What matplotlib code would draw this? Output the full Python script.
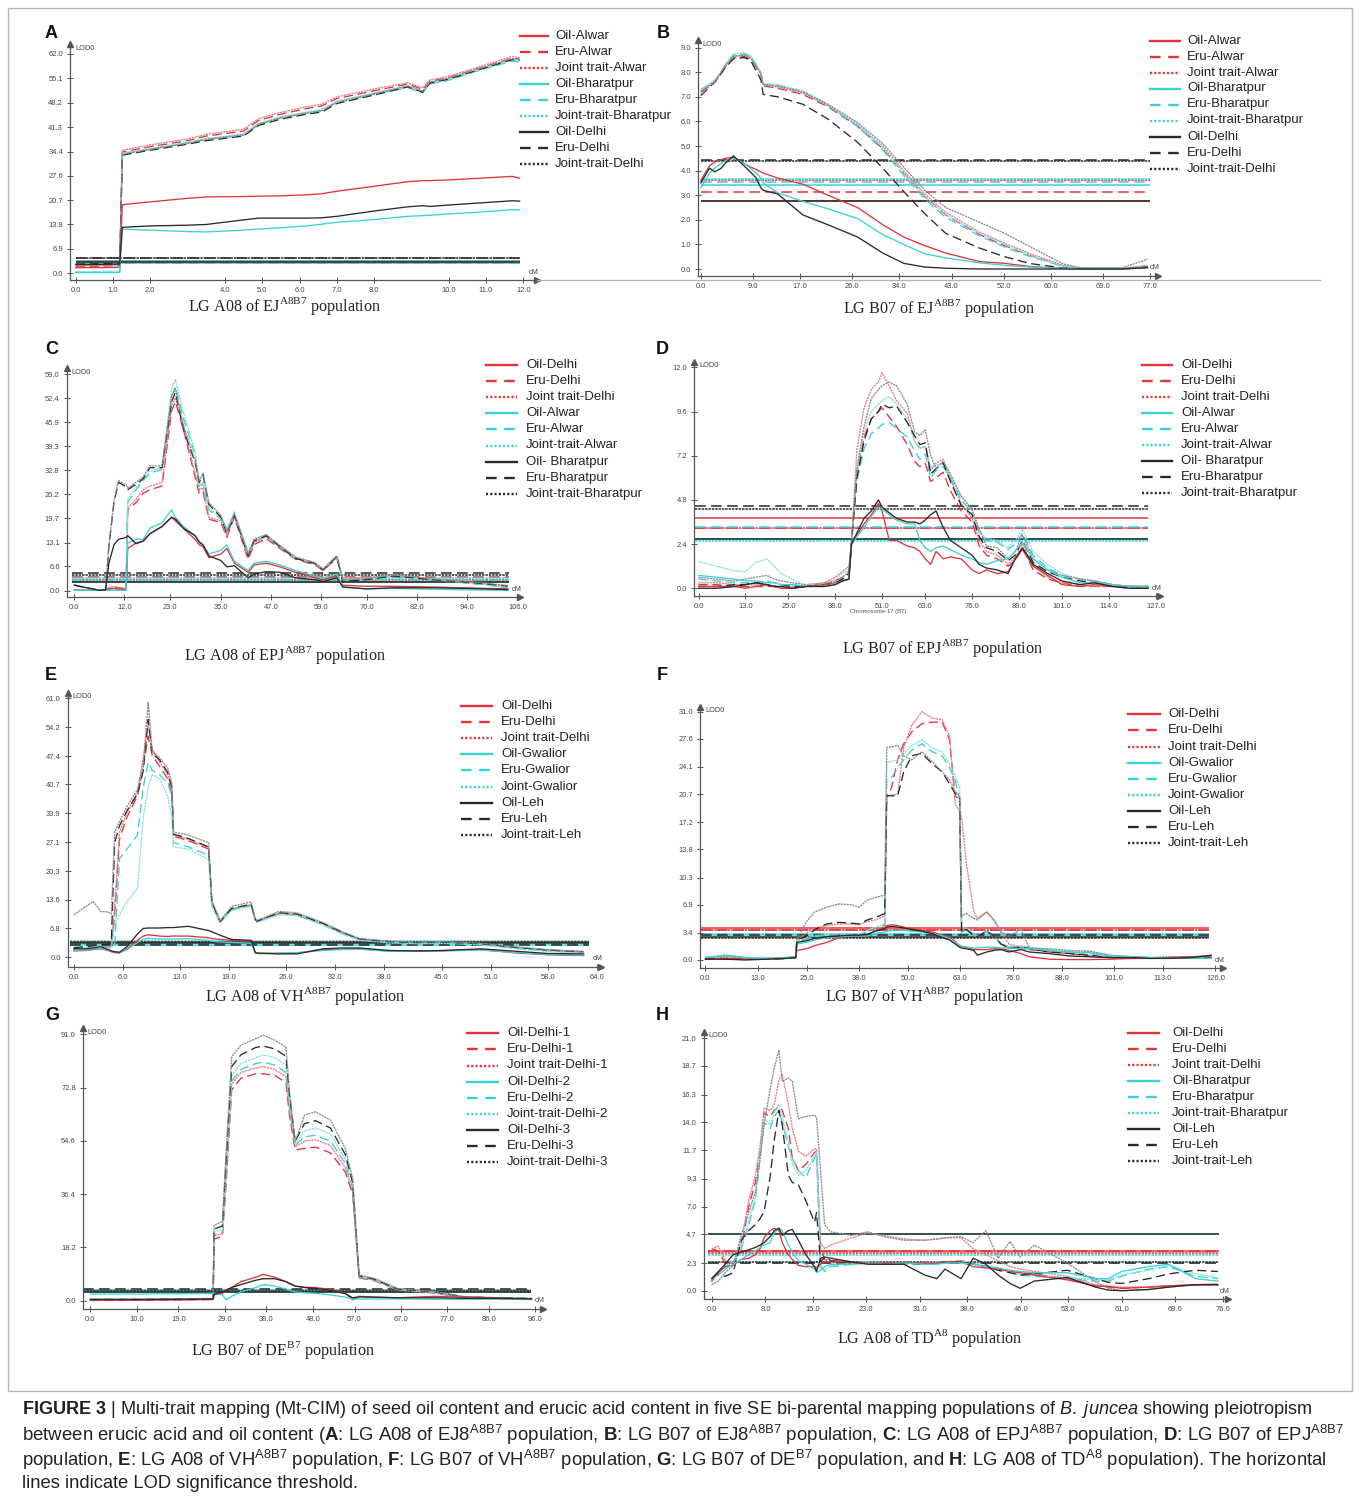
import matplotlib
matplotlib.use("Agg")
import matplotlib.pyplot as plt
from matplotlib.lines import Line2D
from matplotlib.patches import Rectangle
from matplotlib import font_manager

# ------------------------------------------------------------------ data
# ---- Panel A : LG A08 of EJ (Alwar / Bharatpur / Delhi)
A_cm = [0, 0.6, 1.18, 1.25, 2.0, 3.0, 3.5, 4.5, 4.9, 5.5, 6.2, 6.6, 7.0, 8.0, 8.9, 9.3, 9.5, 10.0, 10.7, 11.7, 11.9]
A_oil_alwar = [1.6, 1.6, 1.7, 19.4, 20.2, 21.2, 21.6, 21.7, 21.8, 21.9, 22.2, 22.5, 23.2, 24.6, 25.9, 26.2, 26.2, 26.4, 26.8, 27.4, 26.9]
A_eru_alwar = [2.0, 2.0, 2.2, 34.3, 35.8, 37.5, 38.8, 40.2, 43.2, 45.0, 46.6, 47.3, 49.4, 51.6, 53.5, 52.0, 54.3, 55.3, 57.6, 60.8, 60.6]
A_joint_alwar = [2.2, 2.2, 2.4, 34.8, 36.3, 38.0, 39.3, 40.7, 43.7, 45.5, 47.1, 47.8, 49.9, 52.1, 53.9, 52.4, 54.7, 55.7, 58.0, 61.3, 61.0]
A_oil_bharatpur = [0.2, 0.2, 0.2, 12.5, 12.2, 11.8, 11.7, 12.2, 12.5, 12.9, 13.4, 13.9, 14.4, 15.2, 16.1, 16.3, 16.4, 16.8, 17.2, 18.0, 17.9]
A_eru_bharatpur = [0.3, 0.3, 0.4, 33.8, 35.0, 36.8, 37.8, 39.0, 42.0, 43.9, 45.2, 46.0, 48.3, 50.6, 52.5, 51.0, 53.5, 54.6, 57.0, 60.0, 59.8]
A_joint_bharatpur = [0.5, 0.5, 0.6, 34.0, 35.3, 37.1, 38.1, 39.4, 42.4, 44.3, 45.6, 46.4, 48.7, 51.0, 52.9, 51.4, 53.9, 55.0, 57.4, 60.4, 60.2]
A_oil_delhi = [2.5, 2.5, 2.6, 13.0, 13.4, 13.6, 13.8, 15.1, 15.6, 15.6, 15.6, 15.7, 16.1, 17.6, 18.8, 19.1, 18.9, 19.3, 19.8, 20.5, 20.4]
A_eru_delhi = [2.6, 2.7, 2.8, 33.4, 34.8, 36.5, 37.5, 38.8, 41.8, 43.6, 45.0, 45.6, 48.0, 50.4, 52.7, 51.2, 53.8, 54.9, 57.2, 60.4, 60.2]
A_joint_delhi = [2.3, 2.4, 2.5, 33.7, 35.1, 36.8, 37.9, 39.2, 42.2, 44.0, 45.4, 46.0, 48.4, 50.8, 53.0, 51.5, 54.1, 55.2, 57.5, 60.7, 60.5]
A_thr = [3.4, 3.0, 3.2, 3.0, 3.3, 3.5, 3.1, 4.4, 4.3]
A_labels = ["Oil-Alwar", "Eru-Alwar", "Joint trait-Alwar", "Oil-Bharatpur", "Eru-Bharatpur",
            "Joint-trait-Bharatpur", "Oil-Delhi", "Eru-Delhi", "Joint-trait-Delhi"]
A_xticks = [0, 1, 2, 4, 5, 6, 7, 8, 10, 11, 12]
A_yticks = [0.0, 6.9, 13.8, 20.7, 27.6, 34.4, 41.3, 48.2, 55.1, 62.0]
A_title = r"LG A08 of EJ$^{\mathrm{A8B7}}$ population"

# ---- Panel B : LG B07 of EJ
B_cm = [0, 1.5, 2.4, 3.5, 4.2, 5.6, 7.4, 8.5, 9.5, 10.3, 10.7, 13.2, 17.5, 21.8, 26.9, 31.2, 34.8, 38.4, 42.0, 47.8, 52.1, 56.5, 62.2, 65.1, 72.3, 76.6]
B_oil_alwar = [3.6, 4.2, 4.35, 4.45, 4.5, 4.55, 4.3, 4.15, 4.05, 3.95, 3.9, 3.7, 3.45, 3.0, 2.5, 1.8, 1.3, 0.95, 0.65, 0.3, 0.23, 0.1, 0.02, 0.0, 0.0, 0.08]
B_eru_alwar = [7.2, 7.45, 7.6, 7.95, 8.2, 8.6, 8.65, 8.55, 8.2, 7.9, 7.45, 7.35, 7.1, 6.6, 5.8, 4.9, 3.9, 2.95, 2.2, 1.4, 0.95, 0.55, 0.12, 0.03, 0.02, 0.12]
B_joint_alwar = [7.25, 7.5, 7.65, 8.0, 8.25, 8.65, 8.7, 8.6, 8.25, 7.95, 7.5, 7.4, 7.15, 6.65, 5.85, 5.0, 4.0, 3.05, 2.3, 1.5, 1.05, 0.62, 0.14, 0.03, 0.02, 0.15]
B_oil_bharatpur = [3.3, 3.9, 4.1, 4.3, 4.4, 4.5, 4.3, 4.1, 3.9, 3.7, 3.5, 3.1, 2.75, 2.45, 2.05, 1.4, 1.0, 0.62, 0.45, 0.25, 0.15, 0.08, 0.02, 0.0, 0.0, 0.05]
B_eru_bharatpur = [7.3, 7.5, 7.6, 8.0, 8.3, 8.7, 8.75, 8.65, 8.3, 7.95, 7.5, 7.45, 7.2, 6.65, 5.8, 4.85, 3.8, 2.85, 2.1, 1.35, 0.9, 0.5, 0.1, 0.02, 0.02, 0.1]
B_joint_bharatpur = [7.3, 7.55, 7.7, 8.05, 8.35, 8.75, 8.8, 8.7, 8.35, 8.0, 7.55, 7.5, 7.25, 6.7, 5.9, 4.95, 3.9, 2.95, 2.2, 1.45, 1.0, 0.55, 0.12, 0.02, 0.02, 0.12]
B_oil_delhi = [3.5, 4.1, 3.95, 4.1, 4.3, 4.6, 4.2, 3.95, 3.7, 3.3, 3.2, 3.05, 2.2, 1.8, 1.3, 0.65, 0.23, 0.08, 0.03, 0.0, 0.0, 0.0, 0.0, 0.0, 0.0, 0.05]
B_eru_delhi = [7.05, 7.4, 7.6, 7.95, 8.2, 8.55, 8.6, 8.5, 8.05, 7.7, 7.1, 7.0, 6.7, 6.1, 5.15, 4.1, 3.15, 2.25, 1.45, 0.85, 0.5, 0.22, 0.04, 0.0, 0.0, 0.08]
B_joint_delhi = [7.1, 7.45, 7.6, 8.0, 8.25, 8.65, 8.7, 8.6, 8.25, 7.95, 7.5, 7.45, 7.2, 6.7, 5.95, 5.1, 4.15, 3.2, 2.5, 1.9, 1.45, 0.9, 0.2, 0.05, 0.05, 0.4]
B_thr = [2.78, 3.15, 3.6, 3.4, 3.55, 3.65, 2.75, 4.42, 4.4]
B_labels = A_labels
B_xticks = [0, 9, 17, 26, 34, 43, 52, 60, 69, 77]
B_yticks = [0.0, 1.0, 2.0, 3.0, 4.0, 5.0, 6.0, 7.0, 8.0, 9.0]
B_title = r"LG B07 of EJ$^{\mathrm{A8B7}}$ population"

# ---- Panel C : LG A08 of EPJ (Delhi / Alwar / Bharatpur)
C_cm = [0, 3, 6, 7.5, 8.3, 9.5, 10.6, 12.4, 12.8, 14.8, 16.5, 18.1, 21.0, 23.3, 24.2, 26.1, 28.9, 29.9, 30.8, 32.2,
        35.1, 36.5, 38.3, 41.6, 43.0, 45.9, 49.2, 52.9, 57.6, 59.5, 62.8, 64.2, 69.8, 76.4, 85.8, 95.2, 103.7]
C_oil_delhi = [0.2, 0.1, 0.1, 0.2, 0.5, 0.6, 0.5, 0.3, 11.5, 13.0, 13.5, 15.5, 17.5, 20.0, 19.0, 17.0, 14.0, 12.5, 12.0, 9.0,
               10.0, 11.5, 7.5, 5.0, 7.0, 7.5, 6.5, 5.0, 3.5, 3.0, 4.0, 1.5, 1.2, 1.2, 1.0, 0.7, 0.5]
C_eru_delhi = [0.2, 0.1, 0.1, 0.2, 0.8, 1.0, 0.8, 0.5, 22.0, 24.0, 26.5, 27.5, 28.5, 49.0, 51.5, 44.0, 31.0, 26.5, 27.0, 19.5,
               18.5, 14.5, 20.0, 8.5, 12.5, 14.2, 11.5, 8.6, 7.0, 5.5, 8.8, 3.4, 3.4, 4.2, 3.0, 2.0, 1.0]
C_joint_delhi = [0.3, 0.1, 0.1, 0.2, 0.9, 1.1, 0.9, 0.6, 22.5, 25.0, 27.5, 28.5, 29.5, 50.5, 52.5, 45.0, 32.0, 27.5, 28.0, 20.0,
                 19.0, 15.0, 21.0, 9.0, 13.0, 14.7, 12.0, 8.9, 7.2, 5.7, 9.0, 3.6, 3.5, 4.3, 3.1, 2.1, 1.1]
C_oil_alwar = [0.1, 0.1, 0.1, 0.1, 0.1, 0.1, 0.1, 0.1, 13.0, 14.0, 14.0, 17.0, 18.5, 22.0, 20.0, 17.5, 15.0, 13.0, 12.5, 10.0,
               11.0, 12.5, 8.0, 5.5, 7.5, 8.0, 7.0, 5.5, 4.0, 3.5, 4.5, 1.0, 0.5, 0.6, 0.4, 0.2, 0.1]
C_eru_alwar = [0.3, 0.2, 0.1, 0.1, 0.5, 0.4, 0.3, 0.2, 24.0, 27.5, 30.0, 32.0, 33.0, 53.0, 55.5, 47.0, 37.0, 28.5, 29.0, 22.0,
               19.5, 16.5, 21.0, 10.0, 13.5, 14.8, 12.0, 8.8, 7.5, 5.8, 9.4, 3.2, 3.3, 4.1, 2.9, 2.0, 0.8]
C_joint_alwar = [0.3, 0.2, 0.1, 0.1, 0.6, 0.5, 0.4, 0.3, 25.0, 28.0, 30.5, 32.5, 33.5, 55.0, 57.5, 48.5, 38.0, 29.0, 29.5, 22.5,
                 20.0, 17.0, 21.5, 10.5, 14.0, 15.2, 12.3, 9.0, 7.7, 6.0, 9.6, 3.3, 3.4, 4.2, 3.0, 2.1, 0.9]
C_oil_bharatpur = [1.5, 0.8, 0.1, 0.2, 7.5, 12.5, 14.0, 14.5, 15.0, 12.8, 13.5, 15.5, 17.5, 20.0, 19.5, 17.0, 15.0, 13.3, 12.5, 9.5,
                   8.2, 6.5, 6.8, 3.5, 4.5, 5.2, 5.0, 3.5, 3.0, 2.5, 3.5, 1.0, 0.5, 0.8, 0.8, 0.6, 0.3]
C_eru_bharatpur = [1.5, 0.8, 0.1, 0.2, 12.0, 24.0, 29.5, 28.3, 27.5, 29.0, 30.5, 33.5, 33.5, 51.5, 54.0, 44.0, 35.0, 29.5, 31.5, 23.5,
                   20.0, 15.5, 20.5, 9.5, 13.5, 15.0, 12.0, 8.8, 7.4, 5.6, 9.3, 2.5, 3.0, 4.0, 3.0, 2.2, 1.3]
C_joint_bharatpur = [1.6, 0.8, 0.1, 0.2, 12.5, 24.5, 30.0, 28.8, 28.0, 29.5, 31.0, 34.0, 34.0, 53.0, 55.0, 45.0, 35.5, 30.0, 32.0, 24.0,
                     20.5, 16.0, 21.0, 10.0, 14.0, 15.3, 12.3, 9.2, 7.6, 5.9, 9.5, 3.0, 3.3, 4.3, 3.2, 2.4, 1.4]
C_thr = [2.4, 3.6, 2.9, 2.5, 3.0, 3.5, 2.5, 4.7, 4.4]
C_labels = ["Oil-Delhi", "Eru-Delhi", "Joint trait-Delhi", "Oil-Alwar", "Eru-Alwar", "Joint-trait-Alwar",
            "Oil- Bharatpur", "Eru-Bharatpur", "Joint-trait-Bharatpur"]
C_xticks = [0, 12, 23, 35, 47, 59, 70, 82, 94, 106]
C_yticks = [0.0, 6.6, 13.1, 19.7, 26.2, 32.8, 39.3, 45.9, 52.4, 59.0]
C_title = r"LG A08 of EPJ$^{\mathrm{A8B7}}$ population"

# ---- Panel D : LG B07 of EPJ
D_cm = [0, 5, 10, 13, 16, 19, 21, 23, 26, 30, 35, 38, 40, 41.8, 42.5, 44, 46, 48, 50, 51, 53, 55, 58, 60, 61.5,
        63, 64.5, 66, 68, 70, 73, 76, 78, 80, 83, 86, 88, 90, 93, 97, 101, 106, 110, 115, 120, 125]
D_oil_delhi = [0.1, 0.1, 0.1, 0.0, 0.1, 0.2, 0.1, 0.0, 0.0, 0.1, 0.2, 0.3, 0.4, 0.5, 2.4, 2.9, 3.5, 4.0, 4.6, 4.2, 2.6, 2.6, 2.3, 2.2, 2.0,
               1.6, 1.3, 2.0, 1.6, 1.7, 1.6, 1.0, 0.8, 1.0, 0.8, 0.9, 1.6, 2.1, 1.2, 0.7, 0.2, 0.1, 0.2, 0.1, 0.1, 0.1]
D_eru_delhi = [0.2, 0.2, 0.1, 0.1, 0.1, 0.1, 0.1, 0.0, 0.0, 0.1, 0.2, 0.4, 0.6, 0.9, 2.4, 6.2, 8.2, 9.2, 9.6, 9.8, 9.3, 8.8, 7.8, 6.9, 6.6,
               6.8, 5.8, 6.0, 6.3, 5.3, 4.2, 3.6, 2.3, 1.8, 1.6, 1.2, 1.5, 2.2, 1.0, 0.5, 0.3, 0.1, 0.1, 0.1, 0.1, 0.1]
D_joint_delhi = [0.3, 0.3, 0.2, 0.2, 0.2, 0.2, 0.1, 0.1, 0.1, 0.1, 0.3, 0.6, 0.9, 1.2, 2.5, 7.5, 9.8, 10.8, 11.2, 11.7, 11.0, 10.2, 9.5, 8.0, 7.6,
                 7.7, 6.4, 6.8, 7.0, 5.9, 4.6, 3.8, 2.6, 2.0, 1.8, 1.3, 1.7, 2.4, 1.2, 0.6, 0.3, 0.2, 0.1, 0.1, 0.1, 0.1]
D_oil_alwar = [0.7, 0.6, 0.5, 0.4, 0.4, 0.3, 0.3, 0.2, 0.2, 0.1, 0.1, 0.2, 0.4, 0.5, 2.4, 2.8, 3.3, 3.9, 4.4, 4.3, 4.0, 3.7, 3.5, 3.5, 2.6,
               2.2, 2.0, 2.2, 2.3, 2.1, 1.8, 1.6, 1.4, 1.3, 1.5, 1.6, 2.0, 2.5, 1.6, 1.0, 0.6, 0.3, 0.3, 0.2, 0.1, 0.1]
D_eru_alwar = [0.5, 0.4, 0.3, 0.3, 0.3, 0.4, 0.3, 0.2, 0.2, 0.1, 0.2, 0.3, 0.5, 0.8, 2.3, 5.8, 7.6, 8.4, 8.7, 8.9, 9.0, 8.7, 8.2, 7.5, 7.0,
               7.3, 6.0, 6.4, 6.6, 6.0, 4.8, 4.1, 3.0, 2.6, 2.5, 2.1, 2.4, 3.0, 1.8, 1.1, 0.7, 0.5, 0.4, 0.2, 0.1, 0.1]
D_joint_alwar = [1.45, 1.2, 0.95, 0.9, 1.4, 1.6, 1.2, 0.8, 0.5, 0.1, 0.2, 0.5, 0.8, 1.0, 2.4, 6.2, 8.5, 9.6, 10.0, 10.2, 10.4, 10.0, 9.2, 8.0, 7.6,
                 7.7, 6.6, 6.7, 6.8, 6.1, 5.0, 4.2, 3.1, 2.7, 2.6, 2.2, 2.6, 3.2, 2.0, 1.3, 0.8, 0.5, 0.4, 0.2, 0.1, 0.1]
D_oil_bharatpur = [0.0, 0.0, 0.1, 0.2, 0.3, 0.2, 0.1, 0.1, 0.0, 0.1, 0.1, 0.2, 0.4, 0.5, 2.4, 3.0, 3.8, 4.2, 4.8, 4.4, 4.1, 3.8, 3.6, 3.6, 3.5,
                   3.7, 4.0, 4.2, 3.3, 2.6, 2.2, 1.8, 1.3, 1.1, 1.0, 0.8, 1.6, 2.2, 1.3, 0.8, 0.4, 0.2, 0.3, 0.1, 0.0, 0.0]
D_eru_bharatpur = [0.1, 0.1, 0.2, 0.2, 0.3, 0.2, 0.1, 0.2, 0.1, 0.1, 0.2, 0.3, 0.5, 0.8, 2.5, 6.0, 8.0, 9.2, 9.6, 10.0, 9.8, 9.9, 9.0, 8.3, 7.8,
                   7.9, 6.2, 6.5, 6.8, 5.8, 4.5, 4.0, 2.8, 2.2, 2.0, 1.5, 1.8, 2.6, 1.4, 0.9, 0.6, 0.4, 0.3, 0.1, 0.0, 0.0]
D_joint_bharatpur = [0.6, 0.5, 0.4, 0.5, 0.6, 0.7, 0.5, 0.4, 0.3, 0.2, 0.3, 0.4, 0.6, 0.9, 2.6, 6.5, 8.8, 10.3, 10.8, 11.0, 11.2, 11.0, 10.0, 8.5, 8.3,
                     8.6, 7.2, 6.5, 6.9, 6.2, 5.0, 4.3, 3.2, 2.3, 2.2, 1.6, 2.0, 2.9, 1.6, 1.0, 0.7, 0.5, 0.4, 0.2, 0.1, 0.0]
D_thr = [3.8, 3.3, 3.25, 2.7, 3.35, 2.55, 2.7, 4.45, 4.3]
D_labels = C_labels
D_xticks = [0, 13, 25, 38, 51, 63, 76, 89, 101, 114, 127]
D_yticks = [0.0, 2.4, 4.8, 7.2, 9.6, 12.0]
D_title = r"LG B07 of EPJ$^{\mathrm{A8B7}}$ population"

# ---- Panel E : LG A08 of VH (Delhi / Gwalior / Leh)
E_cm = [0, 1.5, 2.4, 3.3, 4.2, 4.6, 5.0, 5.6, 6.5, 7.8, 8.5, 9.1, 9.6, 10.5, 11.5, 12.0, 12.2, 14.0, 16.5, 16.9,
        17.9, 19.3, 21.7, 22.2, 22.4, 25.1, 27.3, 30.5, 32.7, 35.0, 38.6, 42.0, 45.3, 49.8, 54.3, 58.0, 62.4]
E_oil_delhi = [1.5, 1.6, 1.8, 2.0, 1.6, 1.3, 1.1, 1.0, 2.0, 4.0, 5.0, 5.3, 5.2, 5.0, 4.9, 5.0, 5.0, 5.0, 4.6, 4.4,
               4.2, 4.0, 3.8, 1.0, 0.9, 0.9, 1.0, 1.8, 1.9, 2.0, 1.5, 1.5, 1.6, 1.8, 1.0, 0.6, 0.4]
E_eru_delhi = [2.0, 2.1, 2.2, 2.4, 2.4, 2.5, 10.0, 28.0, 33.0, 38.0, 45.0, 52.0, 47.5, 45.0, 42.0, 38.5, 28.5, 27.5, 25.5, 12.5,
               8.4, 11.3, 12.3, 8.9, 8.4, 10.3, 10.0, 7.8, 5.8, 4.2, 3.6, 3.4, 3.5, 3.1, 2.2, 1.6, 1.2]
E_joint_delhi = [2.1, 2.2, 2.3, 2.5, 2.5, 2.6, 12.0, 29.5, 34.0, 39.0, 47.0, 55.0, 49.0, 46.0, 43.0, 39.5, 28.8, 27.8, 25.8, 12.8,
                 8.5, 11.4, 12.4, 9.0, 8.5, 10.4, 10.1, 7.9, 5.9, 4.3, 3.7, 3.5, 3.6, 3.2, 2.3, 1.7, 1.3]
E_oil_gwalior = [1.6, 1.7, 1.9, 2.1, 1.7, 1.4, 1.2, 1.1, 1.8, 3.5, 4.2, 4.5, 4.4, 4.3, 4.3, 4.3, 4.3, 4.4, 4.0, 3.8,
                 3.6, 3.5, 3.3, 1.0, 0.9, 1.0, 1.1, 1.6, 1.8, 1.9, 1.4, 1.4, 1.5, 1.7, 1.1, 0.7, 0.5]
E_eru_gwalior = [2.0, 2.0, 2.1, 2.2, 2.2, 2.2, 3.0, 23.3, 25.5, 28.8, 40.0, 46.0, 44.0, 43.0, 41.0, 38.0, 27.0, 26.0, 24.0, 12.0,
                 8.3, 11.2, 12.2, 8.8, 8.3, 10.2, 9.9, 7.7, 5.7, 4.1, 3.5, 3.3, 3.4, 3.0, 2.1, 1.5, 1.1]
E_joint_gwalior = [2.1, 2.1, 2.2, 2.3, 2.3, 2.3, 8.0, 10.0, 13.0, 16.3, 33.0, 40.0, 43.0, 42.0, 38.0, 33.0, 26.0, 25.5, 23.0, 12.0,
                   8.2, 11.0, 12.0, 8.7, 8.2, 10.0, 9.8, 7.6, 5.6, 4.0, 3.4, 3.2, 3.3, 2.9, 2.0, 1.4, 1.0]
E_oil_leh = [2.0, 2.0, 2.2, 2.5, 1.8, 1.5, 1.3, 1.2, 2.5, 5.5, 6.8, 6.9, 6.9, 6.9, 7.0, 7.0, 7.0, 7.3, 6.3, 6.0,
             5.2, 4.2, 4.0, 1.2, 1.0, 0.8, 0.8, 2.0, 2.2, 2.2, 1.6, 1.5, 1.6, 2.0, 1.4, 0.9, 0.8]
E_eru_leh = [2.3, 2.5, 2.7, 3.0, 3.0, 4.0, 27.0, 31.0, 34.5, 38.5, 44.0, 56.0, 48.0, 46.5, 43.5, 40.0, 29.0, 28.0, 26.0, 13.0,
             8.4, 11.5, 12.5, 9.0, 8.5, 10.5, 10.2, 8.0, 6.0, 4.3, 3.7, 3.5, 3.6, 3.2, 2.3, 1.7, 1.3]
E_joint_leh = [10.0, 12.0, 13.1, 10.8, 10.7, 10.2, 29.5, 32.0, 35.5, 39.5, 45.0, 60.0, 48.5, 47.0, 44.5, 41.0, 29.5, 28.8, 27.0, 13.5,
               8.6, 12.0, 13.0, 9.2, 8.7, 10.8, 10.5, 8.2, 6.2, 4.4, 3.8, 3.6, 3.7, 3.3, 2.4, 1.8, 1.4]
E_thr = [3.5, 3.2, 3.6, 2.8, 3.1, 3.9, 3.3, 2.9, 3.7]
E_labels = ["Oil-Delhi", "Eru-Delhi", "Joint trait-Delhi", "Oil-Gwalior", "Eru-Gwalior", "Joint-Gwalior",
            "Oil-Leh", "Eru-Leh", "Joint-trait-Leh"]
E_xticks = [0, 6, 13, 19, 26, 32, 38, 45, 51, 58, 64]
E_yticks = [0.0, 6.8, 13.6, 20.3, 27.1, 33.9, 40.7, 47.4, 54.2, 61.0]
E_title = r"LG A08 of VH$^{\mathrm{A8B7}}$ population"

# ---- Panel F : LG B07 of VH
F_cm = [0, 5, 10, 15, 20, 22.3, 22.6, 25, 27, 30, 33, 36, 38, 40, 42, 44.3, 44.8, 46, 47.5, 49, 51, 53.5, 56, 58.5, 60.3,
        61.7, 62.8, 63.3, 64.5, 66.3, 67.2, 69.5, 71.3, 73, 75, 78, 80, 85, 90, 95, 100, 106, 110, 115, 120, 125]
F_oil_delhi = [0.1, 0.2, 0.1, 0.1, 0.2, 0.3, 1.2, 1.4, 1.8, 2.2, 2.8, 3.0, 3.1, 3.2, 3.6, 4.0, 4.3, 4.4, 4.3, 4.1, 3.9, 3.7, 3.5, 3.1, 2.9,
               2.3, 1.8, 1.7, 1.6, 1.3, 1.3, 1.3, 1.4, 1.4, 1.2, 0.8, 0.4, 0.1, 0.05, 0.05, 0.1, 0.2, 0.2, 0.3, 0.4, 0.5]
F_eru_delhi = [0.1, 0.1, 0.1, 0.1, 0.2, 0.3, 2.2, 2.6, 2.8, 3.0, 3.1, 3.1, 3.0, 3.5, 4.0, 4.3, 20.5, 21.5, 25.0, 27.0, 28.5, 29.5, 29.7, 29.7, 27.5,
               20.5, 20.0, 3.5, 3.8, 3.2, 3.0, 3.6, 3.0, 2.0, 1.5, 1.5, 1.3, 1.0, 0.8, 0.5, 0.3, 0.2, 0.2, 0.3, 0.3, 0.3]
F_joint_delhi = [0.3, 0.4, 0.2, 0.2, 0.3, 0.4, 2.4, 3.4, 4.0, 4.3, 4.5, 4.5, 4.4, 4.8, 5.0, 5.5, 20.5, 20.6, 20.7, 26.5, 29.3, 31.0, 30.2, 30.0, 28.0,
                 19.5, 18.5, 17.8, 12.0, 6.0, 5.2, 6.0, 5.0, 3.5, 2.0, 1.6, 1.5, 1.2, 0.8, 1.1, 0.5, 0.4, 0.3, 0.4, 0.4, 0.5]
F_oil_gwalior = [0.3, 0.6, 0.3, 0.2, 0.3, 0.4, 2.0, 2.2, 2.5, 2.8, 2.9, 3.0, 3.0, 3.0, 3.3, 3.5, 3.6, 3.7, 3.7, 3.7, 3.6, 3.5, 3.3, 3.0, 2.7,
                 2.2, 1.8, 1.7, 1.6, 1.5, 1.5, 1.6, 1.6, 1.5, 1.5, 1.4, 1.4, 1.2, 1.0, 0.9, 0.5, 0.4, 0.3, 0.2, 0.2, 0.2]
F_eru_gwalior = [0.3, 0.6, 0.3, 0.2, 0.3, 0.4, 2.2, 2.6, 2.9, 3.1, 3.2, 3.2, 3.1, 3.6, 4.0, 4.4, 22.6, 22.8, 24.0, 25.0, 26.2, 27.0, 26.0, 25.5, 24.0,
                 22.5, 20.0, 3.5, 3.8, 3.1, 2.9, 3.5, 2.9, 2.0, 1.6, 1.7, 1.5, 1.2, 1.0, 0.8, 0.4, 0.3, 0.2, 0.3, 0.3, 0.3]
F_joint_gwalior = [0.3, 0.6, 0.3, 0.2, 0.3, 0.4, 2.3, 2.8, 3.0, 3.2, 3.3, 3.3, 3.2, 3.7, 4.1, 4.5, 24.7, 24.8, 25.0, 25.8, 26.8, 27.5, 26.5, 26.0, 24.5,
                   23.0, 21.5, 4.0, 4.0, 3.3, 3.0, 3.6, 3.0, 2.1, 1.7, 1.8, 1.6, 1.3, 1.1, 0.9, 0.5, 0.3, 0.2, 0.3, 0.3, 0.3]
F_oil_leh = [0.1, 0.1, 0.0, 0.1, 0.2, 0.3, 2.2, 2.4, 2.7, 2.9, 3.0, 3.1, 3.1, 3.2, 3.6, 3.9, 4.1, 4.2, 4.1, 4.0, 3.8, 3.6, 3.3, 2.8, 2.5,
             2.0, 1.6, 1.5, 1.4, 1.2, 0.6, 1.0, 1.2, 1.3, 1.0, 1.3, 1.0, 0.8, 0.5, 0.4, 0.3, 0.3, 0.2, 0.2, 0.3, 0.6]
F_eru_leh = [0.2, 0.2, 0.1, 0.1, 0.2, 0.3, 2.5, 3.0, 3.8, 4.5, 4.7, 4.6, 4.5, 5.0, 5.3, 5.8, 20.5, 20.5, 20.5, 23.5, 25.5, 25.8, 24.5, 23.5, 22.0,
             20.8, 20.5, 3.5, 3.8, 3.0, 2.9, 3.6, 3.0, 2.0, 1.5, 1.6, 1.4, 1.0, 0.8, 0.6, 0.3, 0.2, 0.2, 0.3, 0.3, 0.3]
F_joint_leh = [0.3, 0.5, 0.2, 0.2, 0.3, 0.4, 2.6, 4.8, 6.0, 6.6, 7.0, 6.9, 6.6, 7.5, 7.8, 8.1, 26.5, 26.6, 26.8, 25.5, 25.0, 26.0, 24.8, 23.5, 22.5,
               21.0, 20.5, 5.5, 5.8, 5.2, 5.0, 6.0, 5.0, 3.5, 3.0, 3.8, 1.5, 1.4, 1.2, 1.1, 0.6, 0.4, 0.3, 0.4, 0.3, 0.4]
F_thr = [3.95, 3.7, 3.8, 3.1, 3.2, 3.3, 2.9, 3.1, 2.8]
F_labels = E_labels
F_xticks = [0, 13, 25, 38, 50, 63, 76, 88, 101, 113, 126]
F_yticks = [0.0, 3.4, 6.9, 10.3, 13.8, 17.2, 20.7, 24.1, 27.6, 31.0]
F_title = r"LG B07 of VH$^{\mathrm{A8B7}}$ population"

# ---- Panel G : LG B07 of DE (Delhi-1 / Delhi-2 / Delhi-3)
G_cm = [0, 10, 20, 26.5, 26.7, 28.5, 29.3, 30.5, 32.5, 35.7, 37.3, 39.8, 42.2, 43.0, 44.2, 46.2, 48.6, 51.8, 55.0,
        56.6, 58.0, 61.4, 66.3, 74.3, 80.7, 88.0, 95.2]
G_oil_1 = [0.2, 0.2, 0.3, 0.4, 2.0, 2.5, 3.5, 4.5, 6.5, 8.0, 9.0, 8.0, 6.5, 6.0, 5.0, 4.6, 4.5, 3.8, 2.5, 0.3, 1.5, 1.2, 1.0, 1.5, 1.2, 1.0, 0.5]
G_eru_1 = [0.2, 0.2, 0.3, 0.4, 21.0, 22.0, 40.0, 72.0, 76.0, 77.5, 77.5, 77.0, 74.5, 63.0, 51.5, 52.0, 52.5, 50.5, 44.0, 36.5, 7.8, 6.8, 3.6, 2.6, 1.0, 0.8, 0.5]
G_joint_1 = [0.3, 0.3, 0.4, 0.5, 22.0, 23.0, 42.0, 74.0, 78.0, 79.5, 80.0, 79.0, 76.5, 65.0, 52.5, 54.5, 55.0, 53.0, 45.5, 37.5, 8.0, 7.0, 3.7, 2.7, 1.1, 0.8, 0.6]
G_oil_2 = [2.3, 2.3, 2.4, 2.5, 2.5, 2.0, 0.3, 1.5, 3.0, 4.5, 5.5, 5.0, 4.0, 3.5, 3.0, 2.7, 2.5, 2.0, 1.2, 0.5, 0.6, 0.6, 0.6, 0.5, 0.5, 0.5, 0.4]
G_eru_2 = [0.5, 0.5, 0.6, 0.7, 22.5, 23.5, 44.0, 75.0, 79.0, 81.0, 81.5, 80.5, 78.0, 66.0, 53.0, 56.0, 56.5, 54.5, 47.0, 38.5, 8.2, 7.1, 3.8, 2.8, 1.2, 0.9, 0.7]
G_joint_2 = [0.6, 0.6, 0.7, 0.8, 23.5, 24.5, 46.0, 77.0, 81.0, 83.0, 84.0, 83.0, 80.5, 68.0, 53.5, 58.0, 59.0, 57.0, 48.5, 39.5, 8.3, 7.2, 3.9, 2.9, 1.3, 0.9, 0.7]
G_oil_3 = [0.4, 0.4, 0.5, 0.6, 2.2, 3.0, 3.5, 4.5, 5.5, 7.0, 7.5, 7.5, 6.5, 5.8, 5.0, 4.5, 4.2, 3.5, 2.4, 1.0, 1.3, 1.2, 1.0, 1.0, 0.8, 0.8, 0.6]
G_eru_3 = [0.4, 0.4, 0.5, 0.6, 24.5, 25.5, 48.0, 80.0, 84.0, 86.5, 87.0, 86.0, 83.5, 70.0, 54.5, 60.5, 61.5, 59.0, 50.0, 40.5, 8.5, 7.3, 4.0, 3.0, 1.3, 1.0, 0.8]
G_joint_3 = [0.5, 0.5, 0.6, 0.7, 25.8, 27.0, 50.9, 83.3, 87.3, 89.5, 90.7, 89.0, 86.7, 71.3, 54.3, 63.4, 64.5, 61.7, 52.0, 41.8, 8.8, 7.6, 4.2, 3.1, 1.4, 1.0, 0.8]
G_thr = [3.2, 3.8, 3.5, 3.0, 3.3, 3.6, 3.1, 4.0, 3.4]
G_labels = ["Oil-Delhi-1", "Eru-Delhi-1", "Joint trait-Delhi-1", "Oil-Delhi-2", "Eru-Delhi-2", "Joint-trait-Delhi-2",
            "Oil-Delhi-3", "Eru-Delhi-3", "Joint-trait-Delhi-3"]
G_xticks = [0, 10, 19, 29, 38, 48, 57, 67, 77, 86, 96]
G_yticks = [0.0, 18.2, 36.4, 54.6, 72.8, 91.0]
G_title = r"LG B07 of DE$^{\mathrm{B7}}$ population"

# ---- Panel H : LG A08 of TD (Delhi / Bharatpur / Leh)
H_cm = [0, 1.0, 2.0, 3.2, 4.4, 5.5, 6.5, 7.2, 7.8, 8.7, 9.3, 10.0, 10.5, 11.4, 12.0, 12.9, 14.0, 15.3, 15.6, 16.2, 16.8, 17.7,
        20.8, 23.2, 25.6, 28.6, 31.7, 33.5, 34.7, 37.1, 38.9, 40.8, 42.6, 44.4, 45.9, 48.0, 52.9, 57.1, 59.0, 61.0, 65.0, 68.0, 72.0, 75.3]
H_oil_delhi = [0.8, 1.5, 2.0, 2.1, 2.6, 2.7, 3.0, 3.5, 4.4, 5.0, 5.2, 5.0, 4.0, 3.0, 2.6, 2.1, 2.0, 2.0, 1.9, 2.2, 2.4, 2.4,
               2.4, 2.3, 2.3, 2.3, 2.3, 2.3, 2.4, 2.4, 2.0, 1.9, 1.8, 1.6, 1.5, 1.3, 0.9, 0.4, 0.35, 0.2, 0.3, 0.4, 0.5, 0.5]
H_eru_delhi = [3.5, 3.3, 2.3, 2.2, 3.5, 7.0, 9.0, 11.5, 14.8, 14.5, 15.0, 15.3, 15.0, 13.5, 11.0, 10.0, 10.5, 11.5, 11.6, 3.5, 2.6, 2.5,
               2.4, 2.3, 2.3, 2.3, 2.3, 2.3, 2.4, 2.5, 2.3, 2.0, 1.8, 1.6, 1.5, 1.4, 1.0, 0.4, 0.3, 0.2, 0.3, 0.4, 0.5, 0.5]
H_joint_delhi = [3.5, 3.7, 2.5, 2.3, 4.0, 7.5, 9.6, 12.0, 15.2, 15.0, 15.5, 17.5, 18.0, 15.5, 13.5, 11.6, 11.2, 11.8, 11.8, 4.0, 3.5, 3.8,
                 4.4, 4.8, 4.6, 4.3, 4.2, 4.3, 4.4, 4.4, 3.5, 3.0, 2.5, 2.0, 1.8, 1.6, 1.2, 0.5, 0.4, 0.3, 0.3, 0.4, 0.5, 0.6]
H_oil_bharatpur = [1.0, 1.3, 1.8, 2.2, 2.6, 3.0, 3.3, 3.6, 3.8, 4.0, 4.8, 5.2, 5.0, 3.8, 3.2, 2.5, 2.2, 1.8, 1.5, 1.7, 2.0, 2.2,
                   2.2, 2.3, 2.2, 2.3, 2.2, 2.2, 2.3, 2.3, 2.2, 2.0, 1.9, 1.7, 1.6, 1.5, 1.5, 1.0, 1.0, 1.6, 2.0, 2.2, 1.0, 0.8]
H_eru_bharatpur = [1.0, 1.5, 2.0, 2.3, 3.5, 5.5, 7.5, 11.0, 14.0, 13.5, 14.5, 15.0, 14.0, 12.0, 11.0, 10.0, 9.4, 11.0, 11.5, 2.0, 1.6, 2.0,
                   2.2, 2.3, 2.2, 2.2, 2.2, 2.3, 2.3, 2.4, 2.2, 2.0, 1.8, 1.5, 1.3, 1.2, 1.0, 0.8, 0.8, 1.2, 1.8, 2.0, 1.2, 1.0]
H_joint_bharatpur = [1.1, 1.6, 2.1, 2.4, 3.6, 5.8, 7.8, 11.5, 14.3, 13.8, 14.8, 15.5, 14.5, 12.3, 10.5, 9.6, 10.0, 11.2, 11.6, 2.1, 1.7, 2.1,
                     2.3, 2.4, 2.3, 2.3, 2.3, 2.4, 2.4, 2.5, 2.3, 2.1, 1.9, 1.6, 1.4, 1.3, 1.1, 0.9, 0.9, 1.3, 1.7, 2.1, 1.4, 1.1]
H_oil_leh = [1.0, 1.6, 2.2, 3.0, 3.2, 3.4, 3.6, 3.8, 4.0, 4.5, 5.0, 5.2, 4.6, 5.0, 5.1, 4.2, 3.0, 2.0, 1.6, 2.7, 2.8, 2.7,
             2.4, 2.2, 2.2, 2.2, 1.3, 1.0, 1.8, 1.0, 2.7, 2.2, 1.3, 0.6, 0.2, 0.8, 1.1, 0.3, 0.05, 0.0, 0.1, 0.3, 0.5, 0.5]
H_eru_leh = [1.0, 1.4, 1.2, 1.5, 4.2, 5.0, 5.5, 6.0, 6.6, 9.5, 12.5, 15.0, 13.8, 9.6, 9.0, 8.8, 7.5, 5.7, 6.5, 2.4, 2.8, 2.5,
             2.3, 2.3, 2.2, 2.3, 2.2, 2.3, 2.4, 2.4, 2.2, 2.0, 1.7, 1.5, 1.3, 1.4, 1.7, 1.0, 0.7, 0.6, 1.0, 1.4, 1.7, 1.6]
H_joint_leh = [0.5, 0.8, 1.5, 2.1, 4.6, 6.5, 8.2, 11.0, 13.8, 16.8, 18.5, 20.0, 17.4, 17.7, 17.4, 14.3, 14.5, 14.6, 14.4, 10.0, 5.5, 4.9,
               4.6, 4.9, 4.5, 4.2, 4.2, 4.3, 4.4, 4.5, 4.0, 5.0, 2.7, 4.1, 2.8, 3.8, 2.3, 0.75, 0.2, 0.0, 0.1, 0.3, 0.5, 0.5]
H_thr = [3.3, 3.3, 3.1, 4.7, 2.3, 3.0, 4.7, 2.3, 2.35]
H_labels = ["Oil-Delhi", "Eru-Delhi", "Joint trait-Delhi", "Oil-Bharatpur", "Eru-Bharatpur", "Joint-trait-Bharatpur",
            "Oil-Leh", "Eru-Leh", "Joint-trait-Leh"]
H_xticks = [0, 8, 15, 23, 31, 38, 46, 53, 61, 69, 76]
H_yticks = [0.0, 2.3, 4.7, 7.0, 9.3, 11.7, 14.0, 16.3, 18.7, 21.0]
H_title = r"LG A08 of TD$^{\mathrm{A8}}$ population"

CAPTION = [
    r"$\mathbf{FIGURE\ 3}$ | Multi-trait mapping (Mt-CIM) of seed oil content and erucic acid content in five SE bi-parental mapping populations of $\mathit{B.\ juncea}$ showing pleiotropism",
    r"between erucic acid and oil content ($\mathbf{A}$: LG A08 of EJ8$^{\mathsf{A8B7}}$ population, $\mathbf{B}$: LG B07 of EJ8$^{\mathsf{A8B7}}$ population, $\mathbf{C}$: LG A08 of EPJ$^{\mathsf{A8B7}}$ population, $\mathbf{D}$: LG B07 of EPJ$^{\mathsf{A8B7}}$",
    r"population, $\mathbf{E}$: LG A08 of VH$^{\mathsf{A8B7}}$ population, $\mathbf{F}$: LG B07 of VH$^{\mathsf{A8B7}}$ population, $\mathbf{G}$: LG B07 of DE$^{\mathsf{B7}}$ population, and $\mathbf{H}$: LG A08 of TD$^{\mathsf{A8}}$ population). The horizontal",
    "lines indicate LOD significance threshold.",
]

PANELS = {
    "A": (A_cm, [A_oil_alwar, A_eru_alwar, A_joint_alwar, A_oil_bharatpur, A_eru_bharatpur, A_joint_bharatpur,
                 A_oil_delhi, A_eru_delhi, A_joint_delhi], A_thr, A_labels, A_xticks, A_yticks, A_title),
    "B": (B_cm, [B_oil_alwar, B_eru_alwar, B_joint_alwar, B_oil_bharatpur, B_eru_bharatpur, B_joint_bharatpur,
                 B_oil_delhi, B_eru_delhi, B_joint_delhi], B_thr, B_labels, B_xticks, B_yticks, B_title),
    "C": (C_cm, [C_oil_delhi, C_eru_delhi, C_joint_delhi, C_oil_alwar, C_eru_alwar, C_joint_alwar,
                 C_oil_bharatpur, C_eru_bharatpur, C_joint_bharatpur], C_thr, C_labels, C_xticks, C_yticks, C_title),
    "D": (D_cm, [D_oil_delhi, D_eru_delhi, D_joint_delhi, D_oil_alwar, D_eru_alwar, D_joint_alwar,
                 D_oil_bharatpur, D_eru_bharatpur, D_joint_bharatpur], D_thr, D_labels, D_xticks, D_yticks, D_title),
    "E": (E_cm, [E_oil_delhi, E_eru_delhi, E_joint_delhi, E_oil_gwalior, E_eru_gwalior, E_joint_gwalior,
                 E_oil_leh, E_eru_leh, E_joint_leh], E_thr, E_labels, E_xticks, E_yticks, E_title),
    "F": (F_cm, [F_oil_delhi, F_eru_delhi, F_joint_delhi, F_oil_gwalior, F_eru_gwalior, F_joint_gwalior,
                 F_oil_leh, F_eru_leh, F_joint_leh], F_thr, F_labels, F_xticks, F_yticks, F_title),
    "G": (G_cm, [G_oil_1, G_eru_1, G_joint_1, G_oil_2, G_eru_2, G_joint_2, G_oil_3, G_eru_3, G_joint_3],
          G_thr, G_labels, G_xticks, G_yticks, G_title),
    "H": (H_cm, [H_oil_delhi, H_eru_delhi, H_joint_delhi, H_oil_bharatpur, H_eru_bharatpur, H_joint_bharatpur,
                 H_oil_leh, H_eru_leh, H_joint_leh], H_thr, H_labels, H_xticks, H_yticks, H_title),
}

# ------------------------------------------------------------------ layout (pixels)
LAYOUT = {
    "A": dict(x=(75.7, 523.3, 12), y=(273.3, 54.0, 62.0), box=(70, 280, 537, 44), span=(0, 11.9),
              leg=(520, 548, 555, 36, 16.0), letter=(51, 34), sub=(285, 306)),
    "B": dict(x=(700.8, 1149.8, 77), y=(269.0, 47.7, 9.0), box=(697.8, 275.7, 1158, 40), span=(0, 77),
              leg=(1150, 1180, 1187, 40.5, 16.0), letter=(663, 33), sub=(939, 308)),
    "C": dict(x=(74.2, 517.5, 106), y=(590.7, 374.0, 59.0), box=(66.7, 597.3, 520, 368.3), span=(-0.5, 104),
              leg=(486, 517, 526, 365, 16.1), letter=(52, 350), sub=(285, 655)),
    "D": dict(x=(698.5, 1155.6, 127), y=(588.3, 367.3, 12.0), box=(694.4, 596, 1159.7, 361.7), span=(-1, 125),
              leg=(1142, 1172, 1181, 364.5, 16.1), letter=(662, 350), sub=(943, 648)),
    "E": dict(x=(73.8, 596.8, 64), y=(957.3, 698.3, 61.0), box=(67.6, 966.7, 600.5, 693), span=(-0.5, 63),
              leg=(461, 492, 501, 706, 16.1), letter=(51, 675), sub=(305, 996)),
    "F": dict(x=(705.4, 1215.4, 126), y=(960.0, 711.7, 31.0), box=(699.9, 968.3, 1222.7, 706.7), span=(-1, 124.5),
              leg=(1128, 1160, 1168, 714.3, 16.1), letter=(662, 675), sub=(925, 996)),
    "G": dict(x=(90.3, 535.3, 96), y=(1300.7, 1034.3, 91.0), box=(82.8, 1309, 542.7, 1028.3), span=(-1.5, 95),
              leg=(467, 498, 507, 1033.3, 16.1), letter=(52, 1015), sub=(283, 1350)),
    "H": dict(x=(711.7, 1222.5, 76), y=(1290.7, 1038.3, 21.0), box=(703.6, 1299.3, 1227.8, 1031.7), span=(-0.5, 75.5),
              leg=(1128, 1159, 1172, 1032.5, 16.05), letter=(662, 1016), sub=(930, 1338)),
}

# ------------------------------------------------------------------ style
W, H = 1360, 1502
DPI = 100
available = {f.name for f in font_manager.fontManager.ttflist}
CAPFONT = "Liberation Sans Narrow" if "Liberation Sans Narrow" in available else "Liberation Sans"
plt.rcParams.update({
    "font.family": ["Liberation Sans", "DejaVu Sans"],
    "mathtext.fontset": "custom",
    "mathtext.rm": "Liberation Serif",
    "mathtext.sf": CAPFONT,
    "mathtext.bf": CAPFONT + ":bold",
    "mathtext.it": CAPFONT + ":italic",
})

RED, CYAN, BLACK = "#e3343c", "#3ad2d4", "#2a2a2a"
COLORS = [RED] * 3 + [CYAN] * 3 + [BLACK] * 3
# joint-trait profiles look like faint, nearly continuous lines in the figure
PLOT_COLORS = [RED, RED, "#ea7b83", CYAN, CYAN, "#84dfe2", BLACK, BLACK, "#8c8c8c"]
STYLES = ["-", (0, (7, 3.5)), (0, (1.6, 0.6))] * 3
LEG_STYLES = ["-", (0, (4.5, 3.2)), (0, (0.9, 0.9))] * 3
AXC = "#555555"

fig = plt.figure(figsize=(W / DPI, H / DPI), dpi=DPI)
fig.patch.set_facecolor("white")


def fx(px):
    return px / W


def fy(py):
    return 1 - py / H


fig.add_artist(Rectangle((fx(8), fy(1391)), fx(1344), (1391 - 8) / H, transform=fig.transFigure,
                         fill=False, edgecolor="#b5b5b5", lw=1.0))
fig.add_artist(Line2D([fx(537), fx(1320)], [fy(279.5), fy(279.5)], transform=fig.transFigure,
                      color="#a9b3ba", lw=0.9))

for key, (cm, series, thr, labels, xt, yt, title) in PANELS.items():
    lay = LAYOUT[key]
    x0p, xrp, xref = lay["x"]
    y0p, yrp, yref = lay["y"]
    axx, axy, xend, ytop = lay["box"]
    sx = (xrp - x0p) / xref
    sy = (y0p - yrp) / yref
    ax = fig.add_axes([fx(axx), fy(axy), (xend - axx) / W, (axy - ytop) / H])
    ax.set_xlim((axx - x0p) / sx, (xend - x0p) / sx)
    ax.set_ylim((y0p - axy) / sy, (y0p - ytop) / sy)
    ax.patch.set_alpha(0)
    for s in ("top", "right"):
        ax.spines[s].set_visible(False)
    for s in ("left", "bottom"):
        ax.spines[s].set_color(AXC)
        ax.spines[s].set_linewidth(0.9)
    ax.set_xticks(xt)
    ax.set_xticklabels([f"{v:.1f}" for v in xt])
    ax.set_yticks(yt)
    ax.set_yticklabels([f"{v:.1f}" for v in yt])
    ax.tick_params(direction="inout", length=5, width=0.7, colors=AXC, labelsize=5.4,
                   labelcolor="#444444", pad=2.5)
    ax.plot([0], [1], marker="^", ms=4, color=AXC, transform=ax.transAxes, clip_on=False)
    ax.plot([1], [0], marker=">", ms=4, color=AXC, transform=ax.transAxes, clip_on=False)

    for i, t in enumerate(thr):
        ax.hlines(t, lay["span"][0], lay["span"][1], colors=COLORS[i], linestyles=STYLES[i],
                  lw=1.1, zorder=1)
    for i, ys in enumerate(series):
        ax.plot(cm, ys, color=PLOT_COLORS[i], ls=STYLES[i], lw=0.95, zorder=2 + (i % 3 == 0))

    fig.text(fx(axx + 5), fy(ytop + 4), "LOD0", fontsize=5.3, color="#444444", va="center", ha="left")
    fig.text(fx(xend - 3), fy(axy - 8), "cM", fontsize=5.3, color="#444444", va="center", ha="center")

    lx0, lx1, tx, ly0, dy = lay["leg"]
    for i, lab in enumerate(labels):
        yy = ly0 + i * dy
        fig.add_artist(Line2D([fx(lx0), fx(lx1)], [fy(yy), fy(yy)], transform=fig.transFigure,
                              color=COLORS[i], ls=LEG_STYLES[i], lw=1.7))
        fig.text(fx(tx), fy(yy), lab, fontsize=9.5, color="#222222", va="center", ha="left")

    fig.text(fx(lay["letter"][0]), fy(lay["letter"][1]), key, fontsize=13, fontweight="bold",
             color="#111111", ha="center", va="center")
    fig.text(fx(lay["sub"][0]), fy(lay["sub"][1]), title, fontsize=11.6, family="Liberation Serif",
             color="#222222", ha="center", va="center")

fig.text(fx(878), fy(612), "Chromosome-17 (B7)", fontsize=4.2, color="#555555", ha="center", va="center")

renderer = fig.canvas.get_renderer()
targets = [1311 - 22, 1340 - 22, 1323 - 22, None]
ys_cap = [1410, 1435, 1460, 1484]
sizes = []
texts = []
for line, tw, yc in zip(CAPTION, targets, ys_cap):
    t = fig.text(fx(22), fy(yc), line, fontsize=12, family=CAPFONT, color="#222222", ha="left", va="center")
    texts.append(t)
    if tw is not None:
        w = t.get_window_extent(renderer).width
        fs = 12 * tw / w
        t.set_fontsize(fs)
        sizes.append(fs)
texts[-1].set_fontsize(sum(sizes) / len(sizes))

fig.savefig("out.png", dpi=DPI, facecolor="white")
